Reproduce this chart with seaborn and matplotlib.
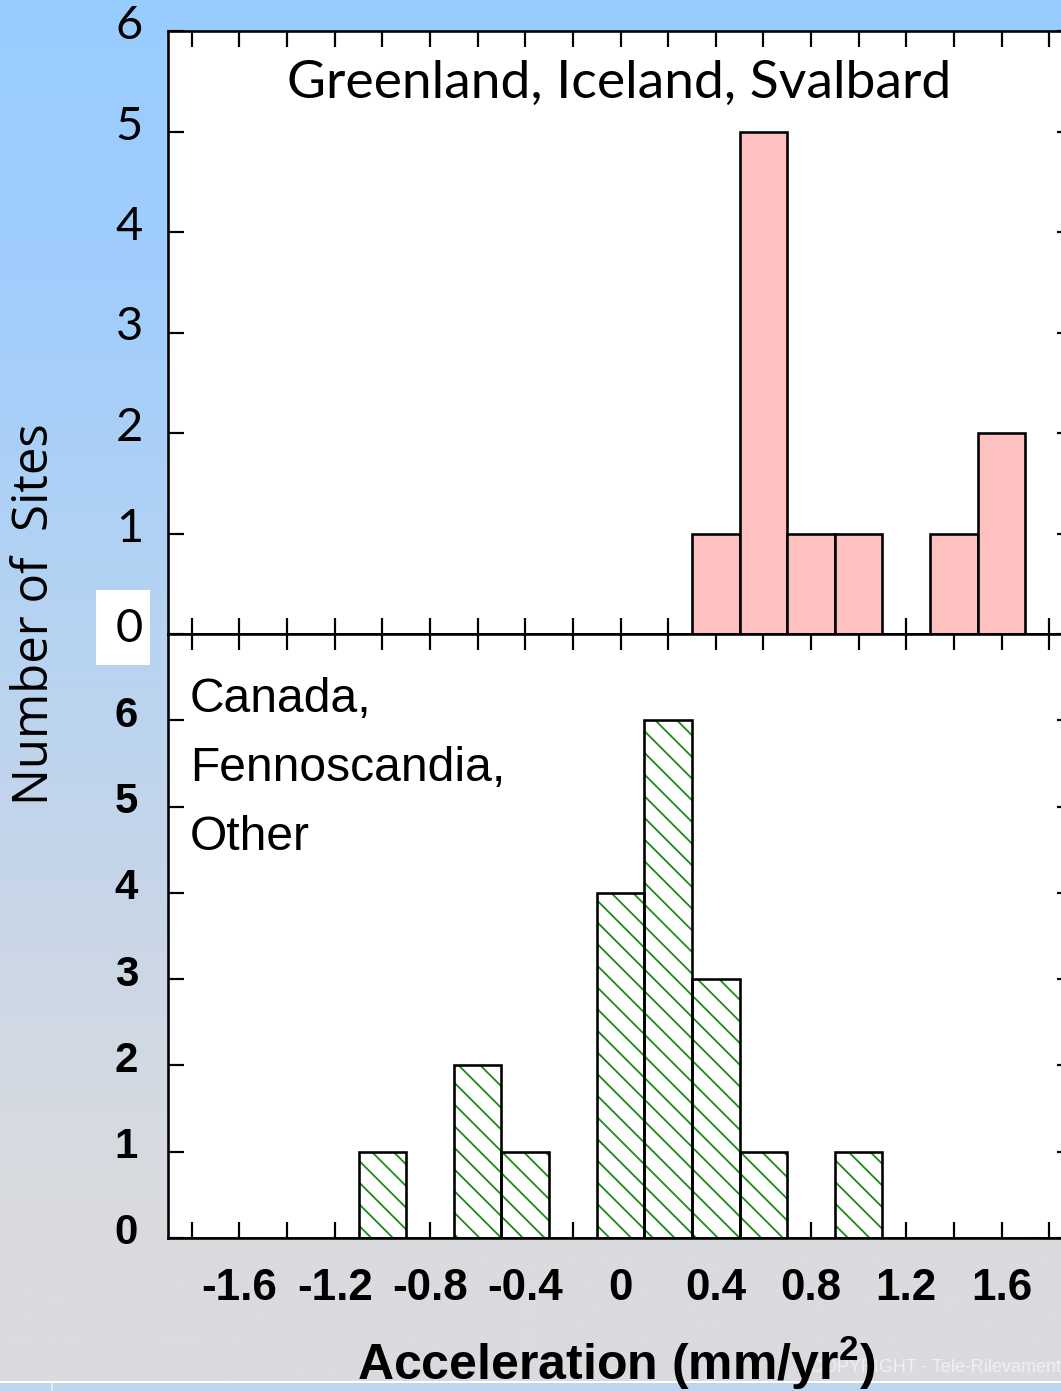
import numpy as np
import pandas as pd
import matplotlib
matplotlib.use("Agg")
import matplotlib.pyplot as plt
from matplotlib.patches import Rectangle
from matplotlib.transforms import ScaledTranslation
import seaborn as sns

# ---- data -------------------------------------------------------------
bin_width = 0.2
bin_range = (-1.9, 1.9)
north_centers = [0.4, 0.6, 0.8, 1.0, 1.4, 1.6]
north_counts = [1, 5, 1, 1, 1, 2]
other_centers = [-1.0, -0.6, -0.4, 0.0, 0.2, 0.4, 0.6, 1.0]
other_counts = [1, 2, 1, 4, 6, 3, 1, 1]

x_major = [-1.6, -1.2, -0.8, -0.4, 0.0, 0.4, 0.8, 1.2, 1.6]
x_minor = [-1.8, -1.4, -1.0, -0.6, -0.2, 0.2, 0.6, 1.0, 1.4, 1.8]
x_labels = ["-1.6", "-1.2", "-0.8", "-0.4", "0", "0.4", "0.8", "1.2", "1.6"]
y_ticks = [0, 1, 2, 3, 4, 5, 6]

north_title = "Greenland, Iceland, Svalbard"
other_title = ["Canada,", "Fennoscandia,", "Other"]

north = pd.DataFrame({"accel": north_centers, "sites": north_counts})
other = pd.DataFrame({"accel": other_centers, "sites": other_counts})

# ---- figure setup -------------------------------------------------------
DPI = 130
W, H = 1061, 1391


def pt(px):
    return px * 72 / DPI


def fx(x):
    return x / W


def fy(y):
    return 1 - y / H


sns.set_style("ticks")
plt.rcParams["font.family"] = ["Liberation Sans", "DejaVu Sans"]
plt.rcParams["mathtext.fontset"] = "custom"
plt.rcParams["mathtext.rm"] = "Liberation Sans"
plt.rcParams["mathtext.bf"] = "Liberation Sans:bold"
plt.rcParams["hatch.linewidth"] = pt(1.8)
for key in ("text.color", "axes.labelcolor", "xtick.color", "ytick.color"):
    plt.rcParams[key] = "black"

fig = plt.figure(figsize=(W / DPI, H / DPI), dpi=DPI)

# slide-style background: blue at the top fading to grey
bg = fig.add_axes([0, 0, 1, 1], zorder=-5)
bg.set_axis_off()
stops = [(0.00, (153, 204, 255)), (0.20, (160, 205, 252)), (0.45, (182, 211, 242)),
         (0.65, (200, 214, 232)), (0.80, (213, 218, 225)), (0.90, (218, 219, 222)),
         (1.00, (218, 219, 222))]
t = np.linspace(0, 1, 600)
pos = [s[0] for s in stops]
grad = np.stack([np.interp(t, pos, [s[1][c] for s in stops]) for c in range(3)], axis=-1) / 255
bg.imshow(grad[:, None, :], aspect="auto", extent=[0, 1, 0, 1], origin="upper")
bg.add_patch(Rectangle((0, 0), 1, fy(1381), color="white", lw=0))
bg.add_patch(Rectangle((0, 0), 1, fy(1383), color=(188 / 255, 214 / 255, 240 / 255), lw=0))
bg.add_patch(Rectangle((fx(51), 0), fx(2), fy(1383), color=(225 / 255, 235 / 255, 245 / 255), lw=0))
bg.add_patch(Rectangle((fx(96), fy(665)), fx(150) - fx(96), fy(590) - fy(665), color="white", lw=0))
bg.set_xlim(0, 1)
bg.set_ylim(0, 1)

left, right = 168, 1073
ax_top = fig.add_axes([fx(left), fy(634), fx(right) - fx(left), fy(31) - fy(634)])
ax_bot = fig.add_axes([fx(left), fy(1238), fx(right) - fx(left), fy(634) - fy(1238)])

edge_lw = pt(2.6)
hist_kw = dict(x="accel", weights="sites", binwidth=bin_width, binrange=bin_range)

# top panel: pink filled bars
sns.histplot(data=north, ax=ax_top, color="#FFC0C0", edgecolor="black",
             linewidth=edge_lw, alpha=1, **hist_kw)

# bottom panel: green hatching, then black outlines
sns.histplot(data=other, ax=ax_bot, color="white", edgecolor="#1a8c1a",
             linewidth=0, alpha=1, hatch="\\\\", **hist_kw)
sns.histplot(data=other, ax=ax_bot, fill=False, color="black",
             linewidth=edge_lw, **hist_kw)

for ax in (ax_top, ax_bot):
    ax.set_facecolor("white")
    ax.set_xlim(-1.9, 1.9)
    ax.set_xlabel("")
    ax.set_ylabel("")
    ax.set_xticks(x_major)
    ax.set_xticks(x_minor, minor=True)
    ax.set_yticks(y_ticks)
    for s in ax.spines.values():
        s.set_visible(True)
        s.set_linewidth(edge_lw)
        s.set_color("black")
    ax.tick_params(which="both", direction="in", length=pt(16), width=pt(2.2),
                   top=True, right=True, bottom=True, left=True, color="black")

ax_top.set_ylim(0, 6)
ax_bot.set_ylim(0, 7)

ax_top.tick_params(axis="x", labelbottom=False)
ax_top.tick_params(axis="y", pad=pt(25))
ax_top.set_yticklabels([str(v) for v in y_ticks], fontsize=pt(47), family=["Lato", "DejaVu Sans"])

ax_bot.set_xticklabels(x_labels, fontsize=pt(44), fontweight="bold")
ax_bot.tick_params(axis="x", pad=pt(30))
ax_bot.tick_params(axis="y", pad=pt(30))
ax_bot.set_yticklabels([str(v) for v in y_ticks], fontsize=pt(42), fontweight="bold")

lift = ScaledTranslation(0, 9 / DPI, fig.dpi_scale_trans)
for ax in (ax_top, ax_bot):
    for lab in ax.get_yticklabels():
        lab.set_transform(lab.get_transform() + lift)

# panel titles
fig.text(fx(619), fy(98), north_title, ha="center", va="baseline",
         fontsize=pt(53.5), family=["Lato", "DejaVu Sans"])
for i, line in enumerate(other_title):
    fig.text(fx(190), fy(712 + 69 * i), line, ha="left", va="baseline", fontsize=pt(48))

# axis titles
fig.text(fx(35), fy(614), "Number of  Sites", rotation=90, ha="center", va="center",
         fontsize=pt(49), family=["Open Sans", "DejaVu Sans"])
fig.text(fx(810), fy(1372), "COPYRIGHT - Tele-Rilevamento", ha="left", va="baseline",
         fontsize=pt(18), color="white", alpha=0.6, zorder=0)
fig.text(fx(616), fy(1380), r"Acceleration (mm/yr$^{\mathbf{2}}$)", ha="center", va="baseline",
         fontsize=pt(50), fontweight="bold", zorder=2)

fig.savefig("out.png", dpi=DPI)
